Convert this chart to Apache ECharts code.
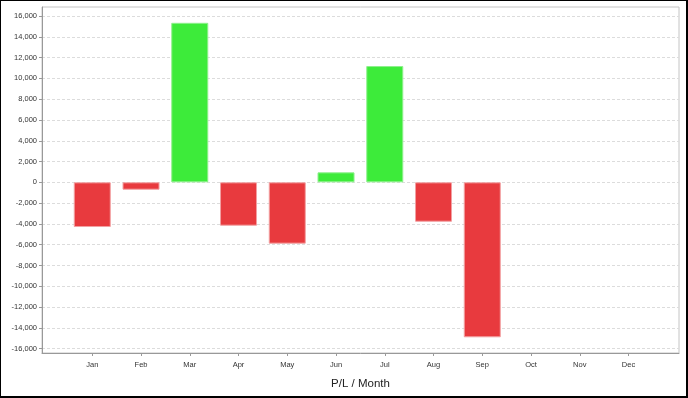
<!DOCTYPE html>
<html>
<head>
<meta charset="utf-8">
<script src="https://cdn.jsdelivr.net/npm/echarts@6/dist/echarts.min.js"></script>
<style>
html,body{margin:0;padding:0;background:#fff;}
#chart{width:688px;height:398px;}
</style>
</head>
<body>
<div id="chart"></div>
<script>
const months = ['Jan','Feb','Mar','Apr','May','Jun','Jul','Aug','Sep','Oct','Nov','Dec'];
const pl = [-4300, -710, 15350, -4170, -5900, 960, 11190, -3790, -14910, null, null, null];
const yTicks = [-16000,-14000,-12000,-10000,-8000,-6000,-4000,-2000,0,2000,4000,6000,8000,10000,12000,14000,16000];
const yMin = -16420, yMax = 16870;
const axisTitle = 'P/L / Month';

const RED = '#e83a3e', GREEN = '#3deb3a';
const FONT = '"Liberation Sans", Arial, sans-serif';

const chart = echarts.init(document.getElementById('chart'), null, {renderer: 'canvas'});
chart.setOption({
  animation: false,
  backgroundColor: '#fff',
  graphic: [{
    type: 'rect', silent: true, z: 100,
    shape: {x: 0, y: 0, width: 687, height: 397},
    style: {fill: 'none', stroke: '#000', lineWidth: 2}
  }],
  grid: [
    {left: 42, right: 9, top: 7, bottom: 45, show: true, borderColor: '#c4c4c4', borderWidth: 1, backgroundColor: '#fff'},
    {left: 67.9, width: 585, top: 7, bottom: 45}
  ],
  xAxis: [
    {
      gridIndex: 0, type: 'value', min: 0, max: 1, position: 'bottom',
      axisLine: {show: true, onZero: false, lineStyle: {color: '#999', width: 1}},
      axisTick: {show: false}, axisLabel: {show: false}, splitLine: {show: false},
      name: axisTitle, nameLocation: 'middle', nameGap: 25,
      nameTextStyle: {fontFamily: FONT, fontSize: 11.5, color: '#222'}
    },
    {
      gridIndex: 1, type: 'category', data: months, boundaryGap: true, position: 'bottom',
      axisLine: {show: false, onZero: false},
      axisTick: {show: true, alignWithLabel: true, length: 3, lineStyle: {color: '#999'}},
      axisLabel: {fontFamily: FONT, fontSize: 7.5, color: '#333', margin: 8},
      splitLine: {show: false}
    }
  ],
  yAxis: [
    {
      gridIndex: 0, type: 'value', min: yMin, max: yMax,
      axisLine: {show: true, onZero: false, lineStyle: {color: '#999', width: 1}},
      axisTick: {show: true, length: 3, customValues: yTicks, lineStyle: {color: '#999'}},
      axisLabel: {
        customValues: yTicks, fontFamily: FONT, fontSize: 7.5, color: '#333', margin: 5,
        formatter: v => Number(v).toLocaleString('en-US')
      },
      splitLine: {show: true, lineStyle: {color: '#dcdcdc', type: [3, 2], width: 1}}
    },
    {
      gridIndex: 1, type: 'value', min: yMin, max: yMax, show: false,
      splitLine: {show: false}
    }
  ],
  series: [{
    type: 'bar', xAxisIndex: 1, yAxisIndex: 1,
    barWidth: 37,
    data: pl.map(v => v === null ? null : {
      value: v,
      itemStyle: {color: v >= 0 ? GREEN : RED, borderColor: v >= 0 ? '#8ef08c' : '#f2a0a2', borderWidth: 1}
    })
  }]
});
</script>
</body>
</html>
